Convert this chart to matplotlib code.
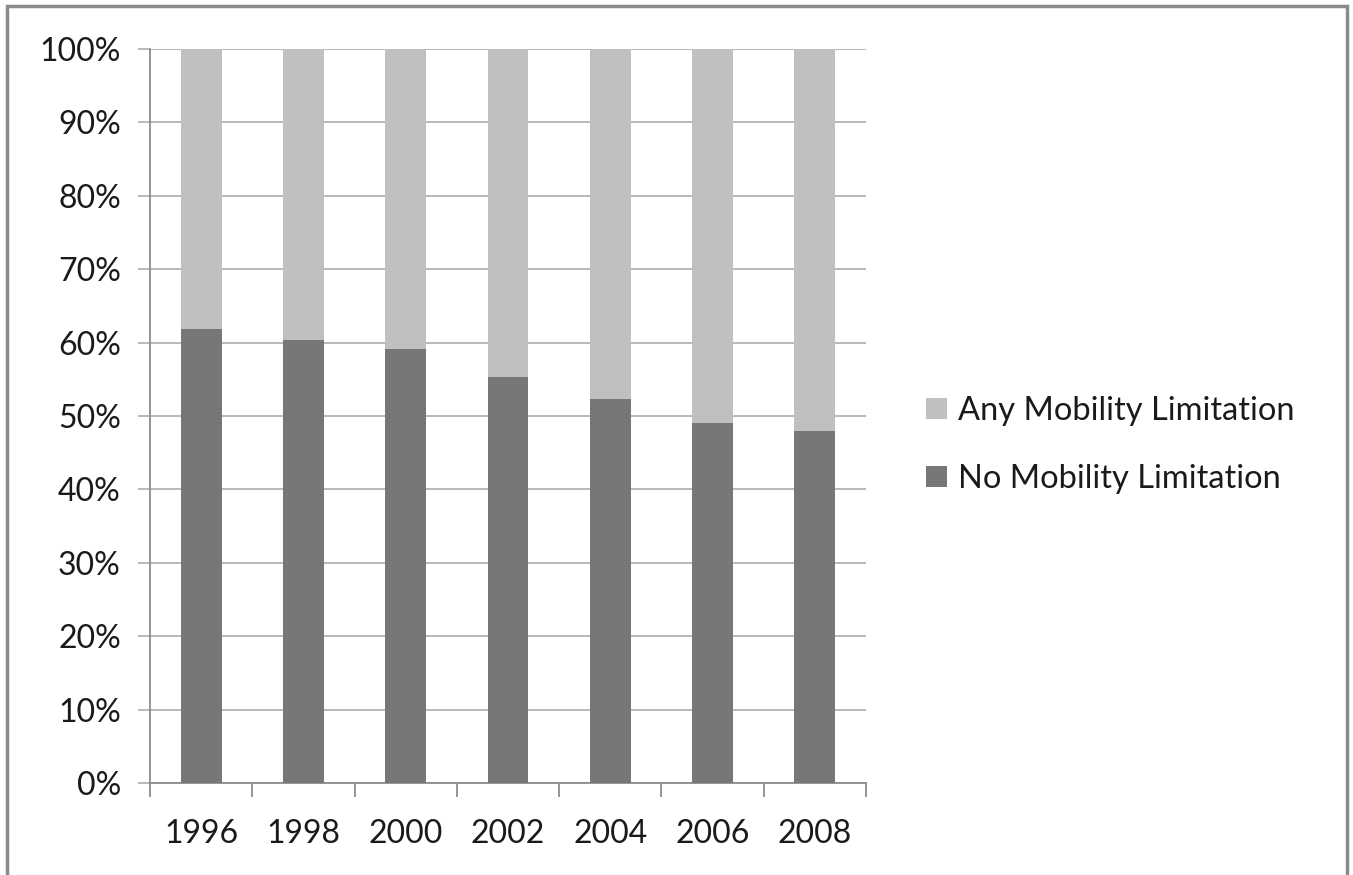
import matplotlib.pyplot as plt
import numpy as np
from matplotlib.patches import Rectangle
from matplotlib.ticker import PercentFormatter

years = ["1996", "1998", "2000", "2002", "2004", "2006", "2008"]
no_limitation = [61.8, 60.3, 59.1, 55.3, 52.3, 49.1, 48.0]
any_limitation = [100 - v for v in no_limitation]

plt.rcParams['font.family'] = ['Lato', 'DejaVu Sans']

fig = plt.figure(figsize=(13.53, 8.75), dpi=100)
ax = fig.add_axes([150 / 1353, 92 / 875, 716 / 1353, 734 / 875])

x = np.arange(len(years))
ax.bar(x, no_limitation, width=0.4, color='#777777', label='No Mobility Limitation', zorder=3)
ax.bar(x, any_limitation, width=0.4, bottom=no_limitation, color='#c0c0c0',
       label='Any Mobility Limitation', zorder=3)

ax.set_xlim(-0.5, len(years) - 0.5)
ax.set_ylim(0, 100)
ax.set_yticks(np.arange(0, 101, 10))
ax.yaxis.set_major_formatter(PercentFormatter(decimals=0))
ax.grid(axis='y', color='#b3b3b3', linewidth=1.3, zorder=0)

# category labels centred, tick marks between categories
ax.set_xticks(x)
ax.set_xticklabels(years)
ax.set_xticks(np.arange(-0.5, len(years)), minor=True)
ax.tick_params(axis='x', which='major', length=0, pad=26, labelsize=23, labelcolor='#1a1a1a')
ax.tick_params(axis='x', which='minor', length=10, width=1.3, color='#8c8c8c')
ax.tick_params(axis='y', length=9, width=1.3, color='#b3b3b3', pad=12, labelsize=23,
               labelcolor='#1a1a1a')

for side in ['top', 'right']:
    ax.spines[side].set_visible(False)
ax.spines['left'].set_color('#8c8c8c')
ax.spines['bottom'].set_color('#8c8c8c')
ax.spines['left'].set_linewidth(1.3)
ax.spines['bottom'].set_linewidth(1.3)

handles, labels = ax.get_legend_handles_labels()
ax.legend(handles[::-1], labels[::-1], loc='center left', bbox_to_anchor=(897 / 1353, 430 / 875),
          bbox_transform=fig.transFigure, frameon=False, fontsize=23.5, handlelength=0.62,
          handleheight=0.62, handletextpad=0.35, labelspacing=1.15, labelcolor='#1a1a1a')

# outer chart border
fig.patches.append(Rectangle((7 / 1353, -0.05), 1340 / 1353, 1.05 - 6 / 875, transform=fig.transFigure,
                             fill=False, edgecolor='#8a8a8a', linewidth=2.5))

fig.savefig("out.png", dpi=100)
